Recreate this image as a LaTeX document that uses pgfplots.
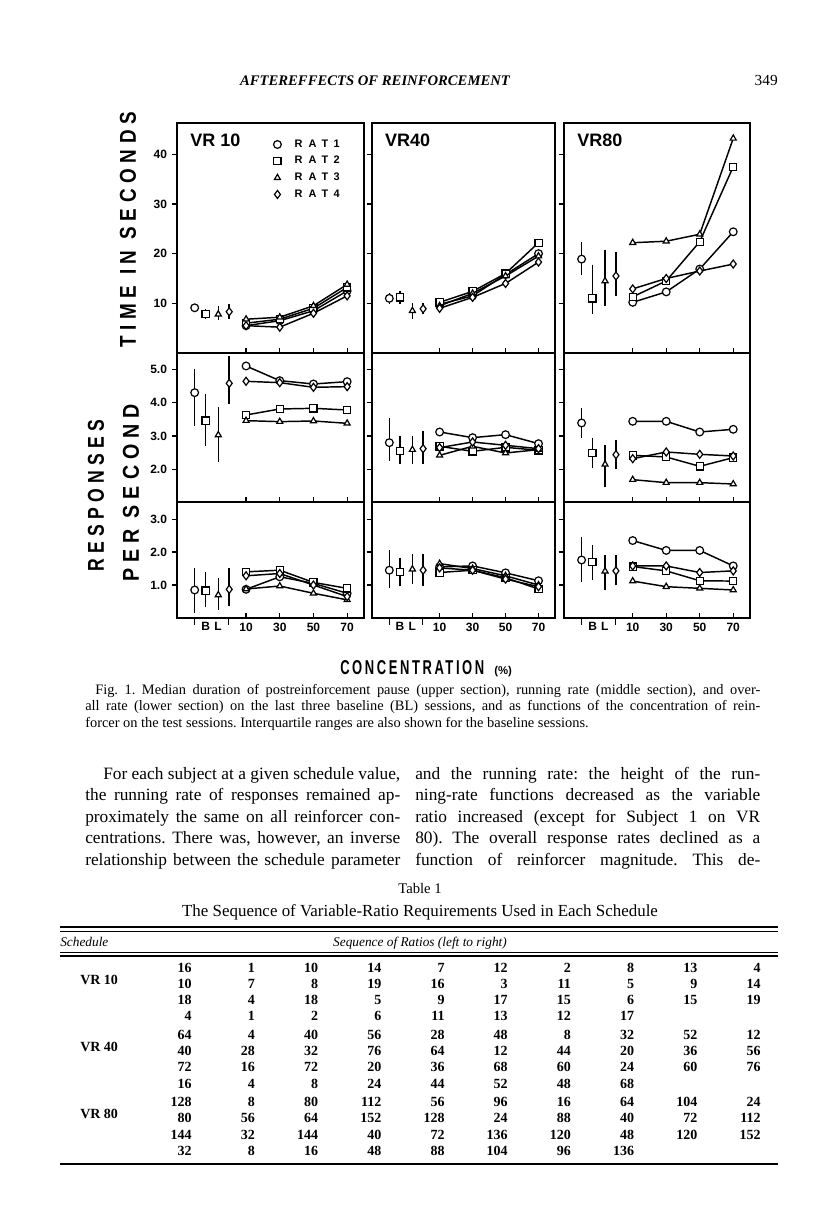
\documentclass[border=0pt]{standalone}
\usepackage{fontspec}
\setmainfont{Liberation Serif}
\newfontfamily\figsf{Liberation Sans}
\newfontfamily\figsp[LetterSpace=35]{Liberation Sans}
\newfontfamily\figleg[LetterSpace=55]{Liberation Sans}
\newfontfamily\figlab[LetterSpace=30]{Liberation Sans}
\newfontfamily\figcon[LetterSpace=20]{Liberation Sans}
\usepackage{graphicx}
\usepackage{pgfplots}
\pgfplotsset{compat=1.18}

\pgfplotsset{
  panel/.style={
    scale only axis, xmin=-31, xmax=80, clip mode=individual,
    axis line style={line width=1.1pt},
    xtick={10,30,50,70}, xticklabels={},
    xtick pos=left, ytick pos=left,
    xtick align=inside, ytick align=outside,
    major tick length=4pt,
    tick style={line width=0.9pt, black},
    /pgf/number format/assume math mode=true,
    ticklabel style={font=\figsf\bfseries\fontsize{9}{9}\selectfont},
  },
  mid/.style={ymin=1.02, ymax=5.49, ytick={2,3,4,5},
    yticklabel style={/pgf/number format/.cd, fixed, fixed zerofill, precision=1}},
  bot/.style={ymin=0, ymax=3.52, ytick={1,2,3},
    yticklabel style={/pgf/number format/.cd, fixed, fixed zerofill, precision=1},
    xticklabels={10,30,50,70},
    extra x ticks={-20.5,-0.5}, extra x tick labels={},
    extra x tick style={tick align=outside, major tick length=5pt}},
  top/.style={ymin=0, ymax=46.3, ytick={10,20,30,40}},
  rr/.style={black, line width=1.1pt, mark options={fill=white, line width=0.9pt, solid}},
  r1/.style={rr, mark=*, mark size=2.9pt},
  r2/.style={rr, mark=square*, mark size=2.7pt},
  r3/.style={rr, mark=triangle*, mark size=2.6pt},
  r4/.style={rr, mark=diamond*, mark size=3.0pt},
}
\newcommand{\ts}[5]{\addplot[#1, forget plot] coordinates {(10,#2) (30,#3) (50,#4) (70,#5)};}
\newcommand{\bl}[5]{\addplot[#1, only marks, forget plot, error bars/.cd, y dir=both, y explicit,
  error bar style={line width=1.1pt, black}, error mark options={line width=1.1pt, mark size=2.2pt, black}]
  coordinates {(#2,#3) += (0,#4) -= (0,#5)};}
\newcommand{\ttl}[1]{\node[anchor=north west, inner sep=0pt, font=\figsf\bfseries\fontsize{13.5}{13.5}\selectfont] at (rel axis cs:0.07,0.955) {#1};}
\newcommand{\blab}{\node[anchor=north, font=\figsp\bfseries\fontsize{9}{9}\selectfont] at (axis cs:-10.5,0) {BL};}

\begin{document}
\frenchspacing
\begin{tikzpicture}
\fill[white] (0,0) rectangle (612pt,905.25pt);
\path[use as bounding box] (0,0) rectangle (612pt,905.25pt);

% ================= TOP ROW: time in seconds =================
\begin{axis}[panel, top, at={(132.75pt,640.5pt)}, anchor=south west, width=140.25pt, height=172.5pt,
  legend style={at={(0.515,0.94)}, anchor=north west, draw=none, fill=none, inner sep=0pt,
    font=\figleg\bfseries\fontsize{8.2}{8.2}\selectfont, row sep=1.3pt, legend cell align=left,
    /tikz/every odd column/.append style={column sep=8pt}}]
\ts{r1}{5.5}{6.5}{8.5}{12.5}
\ts{r2}{6.0}{6.8}{9.0}{13.2}
\ts{r3}{6.8}{7.2}{9.5}{13.8}
\ts{r4}{5.5}{5.2}{8.0}{11.5}
\bl{r1}{-20.5}{9.1}{0}{0}
\bl{r2}{-14}{7.8}{0.5}{0.3}
\bl{r3}{-6.5}{7.8}{1.0}{0.6}
\bl{r4}{0}{8.3}{1.0}{0.8}
\addlegendimage{r1, only marks}
\addlegendimage{r2, only marks}
\addlegendimage{r3, only marks}
\addlegendimage{r4, only marks}
\legend{RAT\hspace{4pt}1,RAT\hspace{4pt}2,RAT\hspace{4pt}3,RAT\hspace{4pt}4}
\ttl{VR 10}
\end{axis}

\begin{axis}[panel, top, yticklabels={}, at={(279pt,640.5pt)}, anchor=south west, width=137.25pt, height=172.5pt]
\ts{r1}{9.8}{11.5}{15.8}{20.0}
\ts{r2}{10.2}{12.4}{16.0}{22.2}
\ts{r3}{9.5}{12.0}{15.5}{19.5}
\ts{r4}{9.0}{11.2}{14.0}{18.3}
\bl{r1}{-20.5}{11.0}{0.4}{0.5}
\bl{r2}{-14}{11.2}{0.6}{0.8}
\bl{r3}{-6.5}{8.5}{0.9}{1.1}
\bl{r4}{0}{8.9}{0.5}{0.5}
\ttl{VR40}
\end{axis}

\begin{axis}[panel, top, yticklabels={}, at={(423pt,640.5pt)}, anchor=south west, width=139.5pt, height=172.5pt]
\ts{r1}{10.2}{12.3}{16.9}{24.4}
\ts{r2}{11.3}{14.5}{22.4}{37.5}
\ts{r3}{22.2}{22.5}{23.9}{43.2}
\ts{r4}{12.9}{15.0}{16.5}{17.9}
\bl{r1}{-20.5}{18.9}{2.8}{2.7}
\bl{r2}{-14}{11.0}{6.2}{2.5}
\bl{r3}{-6.5}{14.5}{5.6}{4.4}
\bl{r4}{0}{15.5}{4.2}{3.4}
\ttl{VR80}
\end{axis}

% ================= MIDDLE ROW: running rate =================
\begin{axis}[panel, mid, at={(132.75pt,528.75pt)}, anchor=south west, width=140.25pt, height=111.75pt]
\ts{r1}{5.10}{4.66}{4.56}{4.63}
\ts{r2}{3.63}{3.81}{3.83}{3.78}
\ts{r3}{3.46}{3.43}{3.45}{3.38}
\ts{r4}{4.64}{4.60}{4.46}{4.48}
\bl{r1}{-20.5}{4.30}{0.61}{0.90}
\bl{r2}{-14}{3.46}{0.72}{0.66}
\bl{r3}{-6.5}{3.03}{0.75}{0.72}
\bl{r4}{0}{4.58}{0.72}{0.52}
\end{axis}

\begin{axis}[panel, mid, yticklabels={}, at={(279pt,528.75pt)}, anchor=south west, width=137.25pt, height=111.75pt]
\ts{r1}{3.12}{2.95}{3.04}{2.77}
\ts{r2}{2.69}{2.54}{2.66}{2.57}
\ts{r3}{2.42}{2.69}{2.49}{2.59}
\ts{r4}{2.65}{2.82}{2.72}{2.62}
\bl{r1}{-20.5}{2.80}{0.65}{0.45}
\bl{r2}{-14}{2.55}{0.37}{0.29}
\bl{r3}{-6.5}{2.59}{0.33}{0.33}
\bl{r4}{0}{2.62}{0.45}{0.37}
\end{axis}

\begin{axis}[panel, mid, yticklabels={}, at={(423pt,528.75pt)}, anchor=south west, width=139.5pt, height=111.75pt]
\ts{r1}{3.44}{3.44}{3.12}{3.20}
\ts{r2}{2.42}{2.37}{2.09}{2.35}
\ts{r3}{1.69}{1.60}{1.60}{1.56}
\ts{r4}{2.32}{2.52}{2.45}{2.40}
\bl{r1}{-20.5}{3.39}{0.36}{0.35}
\bl{r2}{-14}{2.49}{0.37}{0.37}
\bl{r3}{-6.5}{2.15}{0.48}{0.59}
\bl{r4}{0}{2.44}{0.36}{0.35}
\end{axis}

% ================= BOTTOM ROW: overall rate =================
\begin{axis}[panel, bot, at={(132.75pt,441.75pt)}, anchor=south west, width=140.25pt, height=87pt]
\ts{r1}{0.87}{1.25}{1.05}{0.75}
\ts{r2}{1.40}{1.45}{1.08}{0.90}
\ts{r3}{0.88}{0.97}{0.75}{0.55}
\ts{r4}{1.28}{1.35}{1.00}{0.65}
\bl{r1}{-20.5}{0.85}{0.58}{0.61}
\bl{r2}{-14}{0.83}{0.47}{0.41}
\bl{r3}{-6.5}{0.70}{0.43}{0.36}
\bl{r4}{0}{0.87}{0.56}{0.41}
\blab
\end{axis}

\begin{axis}[panel, bot, yticklabels={}, at={(279pt,441.75pt)}, anchor=south west, width=137.25pt, height=87pt]
\ts{r1}{1.55}{1.58}{1.37}{1.13}
\ts{r2}{1.38}{1.45}{1.22}{0.88}
\ts{r3}{1.65}{1.50}{1.28}{1.00}
\ts{r4}{1.52}{1.45}{1.18}{0.95}
\bl{r1}{-20.5}{1.45}{0.51}{0.45}
\bl{r2}{-14}{1.40}{0.34}{0.35}
\bl{r3}{-6.5}{1.48}{0.38}{0.35}
\bl{r4}{0}{1.45}{0.41}{0.38}
\blab
\end{axis}

\begin{axis}[panel, bot, yticklabels={}, at={(423pt,441.75pt)}, anchor=south west, width=139.5pt, height=87pt]
\ts{r1}{2.35}{2.05}{2.05}{1.58}
\ts{r2}{1.56}{1.43}{1.13}{1.12}
\ts{r3}{1.12}{0.95}{0.90}{0.85}
\ts{r4}{1.58}{1.58}{1.38}{1.43}
\bl{r1}{-20.5}{1.76}{0.61}{0.58}
\bl{r2}{-14}{1.69}{0.44}{0.44}
\bl{r3}{-6.5}{1.42}{0.39}{0.47}
\bl{r4}{0}{1.43}{0.38}{0.35}
\blab
\end{axis}

% ================= TEXT (pixel coordinates, y downward) =================
\begin{scope}[x=0.75pt, y=-0.75pt, shift={(0pt,905.25pt)}]
% running head
\node[anchor=base, inner sep=0pt, font=\bfseries\itshape\fontsize{11}{12}\selectfont] at (375,86) {AFTEREFFECTS OF REINFORCEMENT};
\node[anchor=base east, inner sep=0pt, font=\fontsize{11.5}{12}\selectfont] at (778,86) {349};
% axis labels
\node[rotate=90, inner sep=0pt] at (128,230) {\resizebox{177pt}{12pt}{\figlab\bfseries TIME IN SECONDS}};
\node[rotate=90, inner sep=0pt] at (96,496) {\resizebox{114pt}{12pt}{\figlab\bfseries RESPONSES}};
\node[rotate=90, inner sep=0pt] at (131,493) {\resizebox{133pt}{12pt}{\figlab\bfseries PER SECOND}};
\node[anchor=base west, inner sep=0pt] at (340,675) {\resizebox{108pt}{10.5pt}{\figcon\bfseries CONCENTRATION}};
\node[anchor=base west, inner sep=0pt, font=\figsf\bfseries\fontsize{8.5}{9}\selectfont] at (494,675) {(\%)};
% caption
\begin{scope}[every node/.style={anchor=base west, inner sep=0pt, font=\fontsize{10.8}{12}\selectfont}]
\node at (95,695) {\makebox[498.75pt][s]{Fig. 1. Median duration of postreinforcement pause (upper section), running rate (middle section), and over-}};
\node at (85,711) {\makebox[506.25pt][s]{all rate (lower section) on the last three baseline (BL) sessions, and as functions of the concentration of rein-}};
\node at (85,728) {forcer on the test sessions. Interquartile ranges are also shown for the baseline sessions.};
\end{scope}
% body text
\begin{scope}[every node/.style={anchor=base west, inner sep=0pt, font=\fontsize{13}{15}\selectfont}]
\node at (103,780) {\makebox[222.75pt][s]{For each subject at a given schedule value,}};
\node at (85,801) {\makebox[236.25pt][s]{the running rate of responses remained ap-}};
\node at (85,823) {\makebox[236.25pt][s]{proximately the same on all reinforcer con-}};
\node at (85,844) {\makebox[236.25pt][s]{centrations. There was, however, an inverse}};
\node at (85,866) {\makebox[236.25pt][s]{relationship between the schedule parameter}};
\node at (415,780) {\makebox[258.75pt][s]{and the running rate: the height of the run-}};
\node at (415,801) {\makebox[258.75pt][s]{ning-rate functions decreased as the variable}};
\node at (415,823) {\makebox[258.75pt][s]{ratio increased (except for Subject 1 on VR}};
\node at (415,844) {\makebox[258.75pt][s]{80). The overall response rates declined as a}};
\node at (415,866) {\makebox[258.75pt][s]{function of reinforcer magnitude. This de-}};
\end{scope}
% table
\node[anchor=base, inner sep=0pt, font=\fontsize{11}{12}\selectfont] at (420,894) {Table 1};
\node[anchor=base, inner sep=0pt, font=\fontsize{12.7}{13}\selectfont] at (420,917) {The Sequence of Variable-Ratio Requirements Used in Each Schedule};
\draw[line width=1.3pt] (60,927) -- (778,927);
\draw[line width=0.5pt] (60,931) -- (778,931);
\node[anchor=base west, inner sep=0pt, font=\itshape\fontsize{10}{12}\selectfont] at (60,947) {Schedule};
\node[anchor=base, inner sep=0pt, font=\itshape\fontsize{10}{12}\selectfont] at (420,947) {Sequence of Ratios (left to right)};
\draw[line width=0.5pt] (60,952) -- (778,952);
\draw[line width=1.0pt] (60,956) -- (778,956);
\draw[line width=1.3pt] (60,1164) -- (778,1164);
\begin{scope}[every node/.style={anchor=base east, inner sep=0pt, font=\bfseries\fontsize{10.5}{12}\selectfont}]
\foreach \yy/\row in {973/{16,1,10,14,7,12,2,8,13,4},
                      989/{10,7,8,19,16,3,11,5,9,14},
                      1005/{18,4,18,5,9,17,15,6,15,19},
                      1021/{4,1,2,6,11,13,12,17},
                      1040/{64,4,40,56,28,48,8,32,52,12},
                      1056/{40,28,32,76,64,12,44,20,36,56},
                      1072/{72,16,72,20,36,68,60,24,60,76},
                      1089/{16,4,8,24,44,52,48,68},
                      1107/{128,8,80,112,56,96,16,64,104,24},
                      1123/{80,56,64,152,128,24,88,40,72,112},
                      1140/{144,32,144,40,72,136,120,48,120,152},
                      1156/{32,8,16,48,88,104,96,136}}{
  \foreach \v [count=\i] in \row {\node at ({192+63.2*(\i-1)},\yy) {\v};}
}
\end{scope}
\begin{scope}[every node/.style={anchor=base west, inner sep=0pt, font=\bfseries\fontsize{10.5}{12}\selectfont}]
\node at (80,985) {VR 10};
\node at (80,1052) {VR 40};
\node at (80,1119) {VR 80};
\end{scope}
\end{scope}
\end{tikzpicture}
\end{document}
